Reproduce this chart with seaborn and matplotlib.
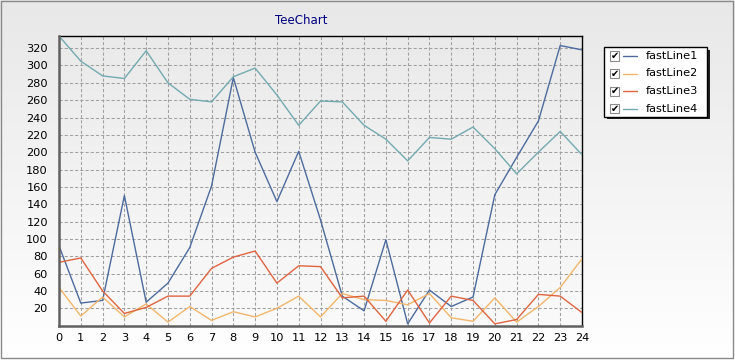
import numpy as np
import pandas as pd
import matplotlib
matplotlib.use("Agg")
import matplotlib.pyplot as plt
import seaborn as sns
from matplotlib.patches import Rectangle
from matplotlib.lines import Line2D
from matplotlib.ticker import AutoMinorLocator
from matplotlib.colors import LinearSegmentedColormap

# ---------------- data ----------------
x_values = list(range(25))
fastLine1 = [92, 26, 29, 150, 27, 49, 90, 161, 286, 200, 143, 201, 122, 34, 17, 99, 2, 41, 22, 33,
             151, 194, 236, 323, 318]
fastLine2 = [44, 11, 33, 10, 25, 4, 22, 6, 16, 10, 20, 34, 10, 37, 30, 29, 24, 37, 9, 5,
             32, 4, 22, 44, 77]
fastLine3 = [73, 78, 40, 14, 21, 34, 34, 66, 79, 86, 49, 69, 68, 32, 34, 5, 41, 3, 34, 29,
             2, 7, 36, 34, 15]
fastLine4 = [334, 305, 288, 285, 317, 280, 261, 258, 287, 297, 266, 231, 259, 258, 231, 215, 190,
             217, 215, 229, 204, 175, 200, 224, 197]
series_names = ["fastLine1", "fastLine2", "fastLine3", "fastLine4"]
series_colors = ["#4d6b9e", "#f2b66b", "#e0643f", "#72aab0"]
title_text = "TeeChart"
y_ticks = list(range(20, 340, 20))
x_ticks = list(range(0, 25))

df = pd.DataFrame({
    "x": x_values * 4,
    "value": fastLine1 + fastLine2 + fastLine3 + fastLine4,
    "series": sum([[n] * len(x_values) for n in series_names], []),
})

# ---------------- figure ----------------
W, H = 735, 360
sns.set_style("white")
plt.rcParams["font.family"] = ["DejaVu Sans"]
fig = plt.figure(figsize=(W / 100, H / 100), dpi=100)

def fx(px):
    return px / W

def fy(py):
    return 1 - py / H

# background gradient
bg = fig.add_axes([0, 0, 1, 1], zorder=-10)
grad = np.linspace(0, 1, 256).reshape(-1, 1)
cm_bg = LinearSegmentedColormap.from_list("bg", ["#e8e8e8", "#ffffff"])
bg.imshow(grad, aspect="auto", cmap=cm_bg, extent=[0, 1, 0, 1], origin="upper")
bg.set_xlim(0, 1); bg.set_ylim(0, 1)
bg.axis("off")
bg.add_patch(Rectangle((0.5 / W, 2.0 / H), (W - 3.0) / W, (H - 2.5) / H, fill=False,
                       edgecolor="#8a8a8a", linewidth=1.0, transform=bg.transAxes))

# plot axes
left, right, top, bottom = 59, 582, 36, 325.6
ax = fig.add_axes([fx(left), fy(bottom), (right - left) / W, (bottom - top) / H])
ax.set_facecolor("none")
cm_ax = LinearSegmentedColormap.from_list("ax", ["#eaeaea", "#fafafa"])
ax.imshow(grad, aspect="auto", cmap=cm_ax, extent=[0, 1, 0, 1], origin="upper",
          transform=ax.transAxes, zorder=0)

sns.lineplot(data=df, x="x", y="value", hue="series", palette=series_colors,
             hue_order=series_names, legend=False, linewidth=1.0, ax=ax, zorder=3)

ax.set_xlim(0, 24)
ax.set_ylim(0, 334)
ax.set_xticks(x_ticks)
ax.set_yticks(y_ticks)
ax.xaxis.set_minor_locator(AutoMinorLocator(5))
ax.yaxis.set_minor_locator(AutoMinorLocator(5))
ax.set_xlabel("")
ax.set_ylabel("")
ax.grid(True, which="major", color="#a0a0a0", linestyle=(0, (3, 2)), linewidth=0.75)
for gl in ax.get_xgridlines() + ax.get_ygridlines():
    gl.set_zorder(1)
ax.tick_params(axis="both", which="major", direction="out", length=4, width=0.8,
               color="#808080", labelsize=8.2, labelcolor="black")
ax.tick_params(axis="both", which="minor", direction="out", length=2.5, width=0.6,
               color="#909090")
ax.tick_params(axis="y", which="major", pad=4)
ax.tick_params(axis="x", which="major", pad=1.5)

for s in ["left", "bottom"]:
    ax.spines[s].set_color("#606060")
    ax.spines[s].set_linewidth(1.8)
    ax.spines[s].set_zorder(4)
for s in ["top", "right"]:
    ax.spines[s].set_color("black")
    ax.spines[s].set_linewidth(1.0)

# title
fig.text(fx(301), fy(20), title_text, color="#000080", fontsize=8.5,
         ha="center", va="center")

# legend (manual, checkbox style)
lx0, ly0, lx1, ly1 = 603.5, 47, 706.5, 116.5
leg_ax = fig.add_axes([0, 0, 1, 1], zorder=20)
leg_ax.set_xlim(0, 1); leg_ax.set_ylim(0, 1); leg_ax.axis("off")
leg_ax.add_patch(Rectangle((fx(lx0 + 3), fy(ly1 + 3)), (lx1 - lx0) / W, (ly1 - ly0) / H,
                           facecolor="#202020", edgecolor="none"))
leg_ax.add_patch(Rectangle((fx(lx0), fy(ly1)), (lx1 - lx0) / W, (ly1 - ly0) / H,
                           facecolor="white", edgecolor="black", linewidth=1.0))
row_y = [56, 73.5, 91, 108.5]
for name, col, ry in zip(series_names, series_colors, row_y):
    leg_ax.add_patch(Rectangle((fx(610), fy(ry + 4.5)), 9 / W, 9 / H,
                               facecolor="white", edgecolor="#8c8c8c", linewidth=0.8))
    leg_ax.text(fx(614.7), fy(ry + 0.3), "\u2714", fontsize=7, color="black",
                ha="center", va="center")
    leg_ax.add_line(Line2D([fx(623), fx(637)], [fy(ry), fy(ry)], color=col, linewidth=1.0))
    leg_ax.text(fx(646), fy(ry), name, fontsize=8.2, color="black", ha="left", va="center")

fig.savefig("out.png", dpi=100)
